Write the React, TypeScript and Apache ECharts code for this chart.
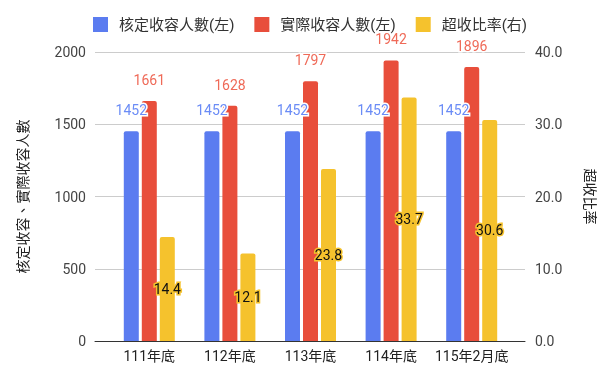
import React, { useEffect, useRef } from "react";
import * as echarts from "echarts";

const categories = ["111年底", "112年底", "113年底", "114年底", "115年2月底"];
const approved = [1452, 1452, 1452, 1452, 1452];
const actual = [1661, 1628, 1797, 1942, 1896];
const overRate = [14.4, 12.1, 23.8, 33.7, 30.6];
const seriesNames = ["核定收容人數(左)", "實際收容人數(左)", "超收比率(右)"];
const leftAxisName = "核定收容、實際收容人數";
const rightAxisName = "超收比率";

const FONT = "Roboto, 'Noto Sans CJK TC', sans-serif";
const BLUE = "#5b7cf0";
const RED = "#e84e3b";
const YELLOW = "#f5c22d";

export default function App() {
  const ref = useRef<HTMLDivElement>(null);
  useEffect(() => {
    if (!ref.current) return;
    const chart = echarts.init(ref.current, undefined, { renderer: "svg" });
    const topLabel = (color: string) => ({
      show: true,
      position: "top",
      distance: 14,
      color,
      fontSize: 14,
      fontFamily: FONT,
      textBorderColor: "#fff",
      textBorderWidth: 3,
    });
    chart.setOption({
      animation: false,
      textStyle: { fontFamily: FONT },
      legend: {
        top: 12,
        left: 88,
        itemWidth: 15,
        itemHeight: 15,
        itemGap: 20,
        icon: "rect",
        textStyle: { fontSize: 15, color: "#333", fontFamily: FONT, padding: [0, 0, 0, 6] },
        data: seriesNames,
      },
      grid: [
        { left: 109, right: 94, top: 52, bottom: 40 },
        { left: 95, right: 81, top: 52, bottom: 40 },
      ],
      xAxis: [
        {
          type: "category",
          gridIndex: 0,
          data: categories,
          axisTick: { show: false },
          axisLine: { show: false },
          axisLabel: { fontSize: 14, color: "#222", margin: 8, fontFamily: FONT, interval: 0 },
        },
        {
          type: "category",
          gridIndex: 1,
          data: categories,
          axisTick: { show: false },
          axisLabel: { show: false },
          axisLine: { lineStyle: { color: "#333" } },
        },
      ],
      yAxis: [
        {
          type: "value",
          gridIndex: 0,
          min: 0,
          max: 2000,
          interval: 500,
          show: false,
          splitLine: { show: false },
        },
        {
          type: "value",
          gridIndex: 0,
          min: 0,
          max: 40,
          interval: 10,
          show: false,
          splitLine: { show: false },
        },
        {
          type: "value",
          gridIndex: 1,
          min: 0,
          max: 2000,
          interval: 500,
          name: leftAxisName,
          nameLocation: "middle",
          nameGap: 65,
          nameRotate: 90,
          nameTextStyle: { fontSize: 14, color: "#222", fontFamily: FONT },
          axisLabel: {
            fontSize: 14,
            color: "#444",
            margin: 9,
            fontFamily: FONT,
            formatter: (v: number) => String(v),
          },
          axisLine: { show: false },
          axisTick: { show: false },
          splitLine: { lineStyle: { color: "#ccc" } },
        },
        {
          type: "value",
          gridIndex: 1,
          min: 0,
          max: 40,
          interval: 10,
          name: rightAxisName,
          nameLocation: "middle",
          nameGap: 58,
          nameRotate: -90,
          nameTextStyle: { fontSize: 14, color: "#222", fontFamily: FONT },
          axisLabel: {
            fontSize: 14,
            color: "#444",
            margin: 10,
            fontFamily: FONT,
            formatter: (v: number) => v.toFixed(1),
          },
          axisLine: { show: false },
          axisTick: { show: false },
          splitLine: { show: false },
        },
      ],
      series: [
        {
          name: seriesNames[0],
          type: "bar",
          xAxisIndex: 0,
          yAxisIndex: 0,
          data: approved,
          barWidth: 15,
          barGap: "20%",
          itemStyle: { color: BLUE, borderRadius: [2, 2, 0, 0] },
          label: topLabel("#6b8cf6"),
        },
        {
          name: seriesNames[1],
          type: "bar",
          xAxisIndex: 0,
          yAxisIndex: 0,
          data: actual,
          barWidth: 15,
          barGap: "20%",
          itemStyle: { color: RED, borderRadius: [2, 2, 0, 0] },
          label: topLabel("#ef6a58"),
        },
        {
          name: seriesNames[2],
          type: "bar",
          xAxisIndex: 0,
          yAxisIndex: 1,
          data: overRate,
          barWidth: 15,
          barGap: "20%",
          itemStyle: { color: YELLOW, borderRadius: [2, 2, 0, 0] },
          label: {
            show: true,
            position: "inside",
            color: "#111",
            fontSize: 14,
            fontFamily: FONT,
            textBorderColor: YELLOW,
            textBorderWidth: 3,
            formatter: (p: any) => Number(p.value).toFixed(1),
          },
        },
      ],
    });
    return () => chart.dispose();
  }, []);
  return (
    <div
      ref={ref}
      style={{ position: "fixed", left: 0, top: 0, width: 606, height: 381 }}
    />
  );
}
